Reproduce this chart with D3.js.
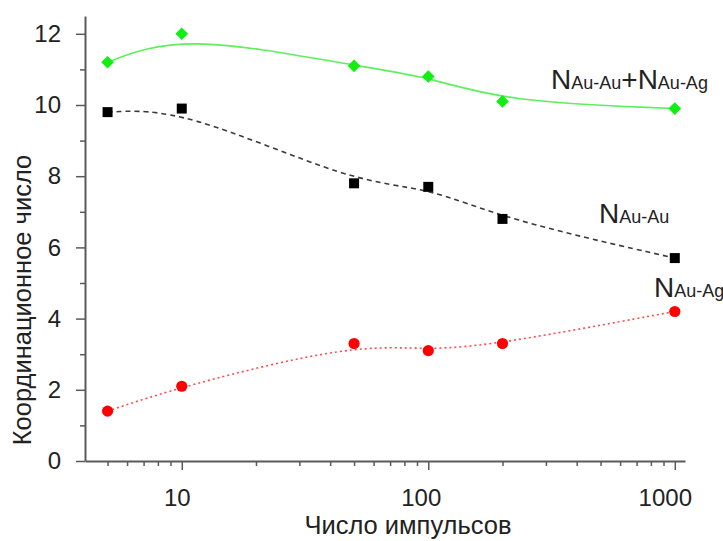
<!DOCTYPE html>
<html><head><meta charset="utf-8">
<script src="https://cdn.jsdelivr.net/npm/d3@7"></script>
<style>
body{margin:0;background:#fff}
svg{display:block;font-family:"Liberation Sans",Arial,sans-serif}
</style>
</head><body>
<svg id="chart" width="723" height="541"></svg>
<script>
// Coordination numbers vs. number of laser pulses
const pulses = [5, 10, 50, 100, 200, 1000];
const nSum  = [11.2, 12.0, 11.1, 10.8, 10.1, 9.9];   // N(Au-Au) + N(Au-Ag)
const nAuAu = [9.8, 9.9, 7.8, 7.7, 6.8, 5.7];        // N(Au-Au)
const nAuAg = [1.4, 2.1, 3.3, 3.1, 3.3, 4.2];        // N(Au-Ag)

const xMajorTicks = [10, 100, 1000];
const xMinorTicks = [5, 6, 7, 8, 9, 20, 30, 40, 50, 60, 70, 80, 90, 200, 300, 400, 500, 600, 700, 800, 900];
const yMajorTicks = [0, 2, 4, 6, 8, 10, 12];
const yMinorTicks = [1, 3, 5, 7, 9, 11];

const xTitle = "Число импульсов";
const yTitle = "Координационное число";

const svg = d3.select("#chart");
const plotLeft = 85, plotRight = 685, plotTop = 16, plotBottom = 461;

const x = d3.scaleLog().domain([4.05, 1100]).range([plotLeft, plotRight]);
const y = d3.scaleLinear().domain([0, 12.5]).range([plotBottom, plotTop]);

const axisColor = "#5a5a5a";
const textColor = "#222";
const fontFamily = "Liberation Sans, Arial, sans-serif";

// X axis: minor ticks, then major ticks with labels
const gxMinor = svg.append("g").attr("transform", `translate(0,${plotBottom})`)
  .call(d3.axisBottom(x).tickValues(xMinorTicks).tickSize(5).tickSizeOuter(0).tickFormat(""));
const gx = svg.append("g").attr("transform", `translate(0,${plotBottom})`)
  .call(d3.axisBottom(x).tickValues(xMajorTicks).tickSize(9).tickSizeOuter(0).tickPadding(19).tickFormat(d3.format("d")));
// labels sit slightly left of their ticks, more so for longer numbers
gx.selectAll(".tick text").attr("dx", d => -2.5 * String(d).length);

// Y axis
const gyMinor = svg.append("g").attr("transform", `translate(${plotLeft},0)`)
  .call(d3.axisLeft(y).tickValues(yMinorTicks).tickSize(5).tickSizeOuter(0).tickFormat(""));
const gy = svg.append("g").attr("transform", `translate(${plotLeft},0)`)
  .call(d3.axisLeft(y).tickValues(yMajorTicks).tickSize(9).tickSizeOuter(0).tickPadding(15));

[gxMinor, gyMinor].forEach(g => g.select(".domain").remove());
[gx, gy].forEach(g => {
  g.select(".domain").attr("stroke", axisColor).attr("stroke-width", 2);
});
[gx, gy, gxMinor, gyMinor].forEach(g => {
  g.selectAll(".tick line").attr("stroke", axisColor).attr("stroke-width", 1.5);
  g.selectAll(".tick text").attr("fill", textColor).attr("font-size", 24)
    .attr("font-family", fontFamily);
});

// Axis titles
svg.append("text").attr("x", 408).attr("y", 534).attr("text-anchor", "middle")
  .attr("font-size", 25.5).attr("fill", textColor).text(xTitle);
svg.append("text").attr("transform", "translate(31,300) rotate(-90)").attr("text-anchor", "middle")
  .attr("font-size", 25.5).attr("fill", textColor).text(yTitle);

// Series: smoothed B-spline through the measured points
const series = [
  { values: nSum,  line: "#5cf05c", dash: null,  marker: "diamond", fill: "#11ee11" },
  { values: nAuAu, line: "#3a3a3a", dash: "5,4", marker: "square",  fill: "#000" },
  { values: nAuAg, line: "#ff4a4a", dash: "2,3", marker: "circle",  fill: "#ff0000" }
];

series.forEach(s => {
  const pts = pulses.map((p, i) => ({ p, v: s.values[i] }));
  const line = d3.line().x(d => x(d.p)).y(d => y(d.v)).curve(d3.curveBasis);
  svg.append("path").datum(pts).attr("d", line)
    .attr("fill", "none").attr("stroke", s.line).attr("stroke-width", 1.6)
    .attr("stroke-dasharray", s.dash);

  const g = svg.append("g");
  pts.forEach(d => {
    const cx = x(d.p), cy = y(d.v);
    if (s.marker === "diamond") {
      g.append("path").attr("d", d3.symbol(d3.symbolSquare, 80)())
        .attr("transform", `translate(${cx},${cy}) rotate(45)`).attr("fill", s.fill);
    } else if (s.marker === "square") {
      g.append("path").attr("d", d3.symbol(d3.symbolSquare, 100)())
        .attr("transform", `translate(${cx},${cy})`).attr("fill", s.fill);
    } else {
      g.append("circle").attr("cx", cx).attr("cy", cy).attr("r", 5.6).attr("fill", s.fill);
    }
  });
});

// Series labels: N with subscripts
function label(xPos, yPos, parts) {
  const t = svg.append("text").attr("x", xPos).attr("y", yPos).attr("fill", textColor);
  parts.forEach(([txt, size]) => t.append("tspan").attr("font-size", size).text(txt));
}
label(551, 89, [["N", 28], ["Au-Au", 18], ["+", 28], ["N", 28], ["Au-Ag", 18]]);
label(599, 223, [["N", 28], ["Au-Au", 18]]);
label(654, 297, [["N", 28], ["Au-Ag", 18]]);
</script>
</body></html>
